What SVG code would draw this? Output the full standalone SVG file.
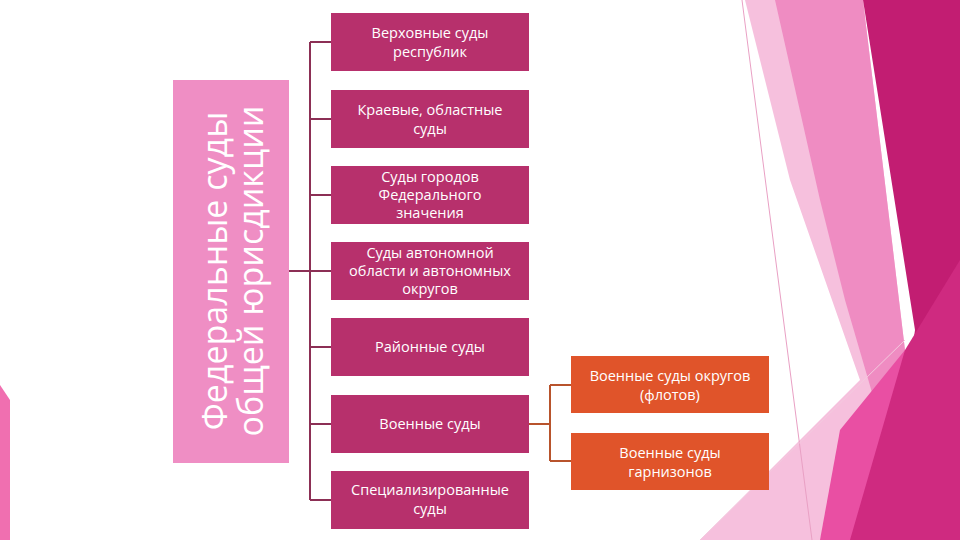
<svg xmlns="http://www.w3.org/2000/svg" width="960" height="540" viewBox="0 0 960 540">
<style>
.b{fill:#b7306c}
.o{fill:#e0542a}
.t{font-family:"Open Sans","DejaVu Sans",sans-serif;font-size:14.5px;fill:#fff;text-anchor:middle}
.c{stroke:#8c2f55;stroke-width:2;fill:none}
.co{stroke:#b8532c;stroke-width:2;fill:none}
</style>
<rect width="960" height="540" fill="#fff"/>
<g id="bg">
<polygon points="0,385 10,400 10,540 0,540" fill="#f06fb0"/>
<polygon points="745,0 863,0 905,350 895,540 700,540 860,380 790,180" fill="#f6c0dd"/>
<polygon points="775,0 863,0 905,350 880,540 860,540 880,420 845,300 820,200" fill="#ef8cc2"/>
<polygon points="840,430 905,350 895,540 820,540" fill="#e94fa3"/>
<polygon points="863,0 960,0 960,540 885,540 915,330" fill="#c21d72"/>
<polygon points="905,350 960,260 960,540 850,540" fill="#cf2a80"/>
<line x1="742" y1="0" x2="812" y2="540" stroke="#e9a0c4" stroke-width="1"/>
<line x1="700" y1="540" x2="905" y2="340" stroke="#f3c9de" stroke-width="1"/>
</g>
<g id="left">
<rect x="173" y="80" width="116" height="383" fill="#ef8ec4"/>
<text transform="translate(231 271) rotate(-90)" font-family="'Open Sans','DejaVu Sans',sans-serif" font-size="34" fill="#fff" text-anchor="middle"><tspan x="0" y="-4">Федеральные суды</tspan><tspan x="0" y="32">общей юрисдикции</tspan></text>
</g>
<g id="connectors">
<path class="c" d="M289 271H310M310 42V500M310 42H331M310 119H331M310 195H331M310 271H331M310 347H331M310 424H331M310 500H331"/>
<path class="co" d="M529 424H550M550 385V461M550 385H571M550 461H571"/>
</g>
<g id="n1"><rect class="b" x="331" y="13" width="198" height="58"/><text class="t" x="430" y="38">Верховные суды</text><text class="t" x="430" y="57">республик</text></g>
<g id="n2"><rect class="b" x="331" y="90" width="198" height="58"/><text class="t" x="430" y="115">Краевые, областные</text><text class="t" x="430" y="134">суды</text></g>
<g id="n3"><rect class="b" x="331" y="166" width="198" height="58"/><text class="t" x="430" y="182">Суды городов</text><text class="t" x="430" y="200">Федерального</text><text class="t" x="430" y="218">значения</text></g>
<g id="n4"><rect class="b" x="331" y="242" width="198" height="58"/><text class="t" x="430" y="258">Суды автономной</text><text class="t" x="430" y="276">области и автономных</text><text class="t" x="430" y="294">округов</text></g>
<g id="n5"><rect class="b" x="331" y="318" width="198" height="58"/><text class="t" x="430" y="352">Районные суды</text></g>
<g id="n6"><rect class="b" x="331" y="395" width="198" height="58"/><text class="t" x="430" y="429">Военные суды</text></g>
<g id="n7"><rect class="b" x="331" y="471" width="198" height="58"/><text class="t" x="430" y="495">Специализированные</text><text class="t" x="430" y="514">суды</text></g>
<g id="n8"><rect class="o" x="571" y="356" width="198" height="57"/><text class="t" x="670" y="381">Военные суды округов</text><text class="t" x="670" y="400">(флотов)</text></g>
<g id="n9"><rect class="o" x="571" y="433" width="198" height="57"/><text class="t" x="670" y="458">Военные суды</text><text class="t" x="670" y="477">гарнизонов</text></g>
</svg>
